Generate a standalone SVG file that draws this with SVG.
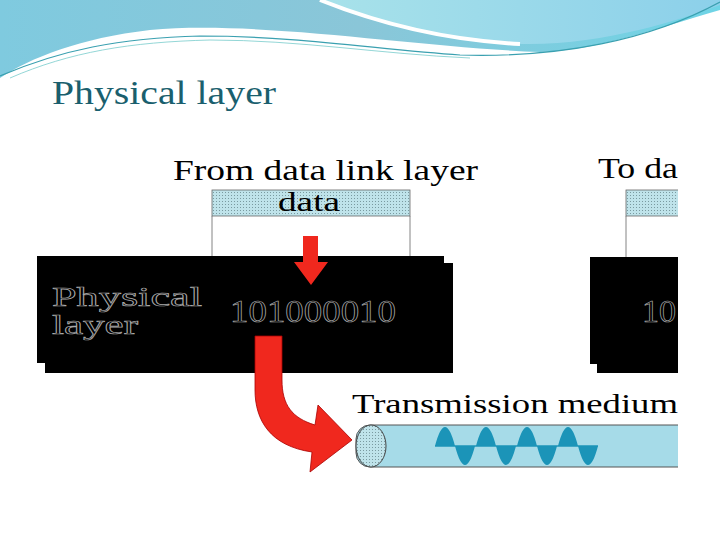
<svg xmlns="http://www.w3.org/2000/svg" width="720" height="540" viewBox="0 0 720 540">
<defs>
<linearGradient id="bg" x1="0" y1="0" x2="1" y2="0"><stop offset="0" stop-color="#7fcadf"/><stop offset="0.5" stop-color="#8ac6d8"/><stop offset="1" stop-color="#6fd4e6"/></linearGradient>
<linearGradient id="bg2" x1="0" y1="0" x2="1" y2="0"><stop offset="0" stop-color="#a8e2ea"/><stop offset="1" stop-color="#8cd0ea"/></linearGradient>
<pattern id="hatch" width="3" height="3" patternUnits="userSpaceOnUse"><rect width="3" height="3" fill="#bfe3ea"/><rect width="1" height="1" fill="#7a9aa0"/></pattern>
<clipPath id="clip"><rect x="0" y="0" width="678" height="540"/></clipPath>
<style>
.ser{font-family:"Liberation Serif",serif}
.out{font-family:"Liberation Serif",serif;fill:none;stroke:#aaa;stroke-width:0.7}
</style>
</defs>
<rect width="720" height="540" fill="#fff"/>
<path d="M0 0H720V10C650 30 600 50 540 52C420 48 260 20 150 30C80 38 30 58 0 78Z" fill="url(#bg)"/>
<path d="M320 0C370 20 440 40 520 44C600 46 680 20 720 5V0Z" fill="url(#bg2)"/>
<path d="M320 0C370 20 440 40 520 44" stroke="#fff" stroke-width="4" fill="none"/>
<path d="M0 76C60 50 120 38 200 36C300 36 380 50 460 55C560 58 650 40 720 2" stroke="#3aa0b0" stroke-width="1.2" fill="none"/>
<path d="M10 78C70 52 130 42 210 40C300 40 380 54 470 58" stroke="#7cc" stroke-width="0.8" fill="none"/>
<text x="52" y="104" class="ser" font-size="33" fill="#1a5f6e" textLength="224" lengthAdjust="spacingAndGlyphs">Physical layer</text>
<g clip-path="url(#clip)">
<g id="left">
<text x="173" y="180" class="ser" font-size="29" textLength="305" lengthAdjust="spacingAndGlyphs">From data link layer</text>
<rect x="212" y="190" width="198" height="26" fill="url(#hatch)" stroke="#666" stroke-width="0.8"/>
<text x="278" y="211" class="ser" font-size="28" textLength="62" lengthAdjust="spacingAndGlyphs">data</text>
<path d="M212 216V258M410 216V258" stroke="#666" stroke-width="0.8"/>
<rect x="45" y="263" width="408" height="110" fill="#000"/>
<rect x="37" y="256" width="407" height="107" fill="#000"/>
<text x="52" y="306" class="out" font-size="27" textLength="150" lengthAdjust="spacingAndGlyphs">Physical</text>
<text x="52" y="334" class="out" font-size="27" textLength="86" lengthAdjust="spacingAndGlyphs">layer</text>
<text x="230" y="322" class="out" font-size="32" textLength="166" lengthAdjust="spacingAndGlyphs">101000010</text>
</g>
<g id="right">
<text x="598" y="178" class="ser" font-size="29" textLength="80" lengthAdjust="spacingAndGlyphs">To da</text>
<rect x="626" y="190" width="120" height="26" fill="url(#hatch)" stroke="#666" stroke-width="0.8"/>
<path d="M626 216V258" stroke="#666" stroke-width="0.8"/>
<rect x="597" y="263" width="120" height="110" fill="#000"/>
<rect x="590" y="257" width="120" height="107" fill="#000"/>
<text x="642" y="322" class="out" font-size="32" textLength="34" lengthAdjust="spacingAndGlyphs">10</text>
</g>
<g id="medium">
<text x="352" y="413" class="ser" font-size="28" textLength="326" lengthAdjust="spacingAndGlyphs">Transmission medium</text>
<rect x="356" y="425" width="340" height="42" rx="14" fill="#a6dbe8" stroke="#555" stroke-width="1"/>
<ellipse cx="371" cy="446" rx="15" ry="21" fill="url(#hatch)" stroke="#444" stroke-width="1"/>
<path fill="#1b94b8" d="M435 446Q445 408 455 446ZM476 446Q486 408 496 446ZM517 446Q527 408 537 446ZM558 446Q568 408 578 446Z M455 446Q465 484 475 446ZM496 446Q506 484 516 446ZM537 446Q547 484 557 446ZM578 446Q588 484 598 446Z"/>
<path d="M435 446H598" stroke="#1b94b8" stroke-width="1.5"/>
</g>
</g>
<g id="connectors">
<path d="M303 236H318V262H328L311 285L294 262H303Z" fill="#f0281e"/>
<path d="M255 336H282V380C282 405 292 418 315 425L318 405L352 440L310 472L312 452C270 446 255 420 255 390Z" fill="#f0281e" stroke="#a00" stroke-width="0.8"/>
</g>
</svg>
